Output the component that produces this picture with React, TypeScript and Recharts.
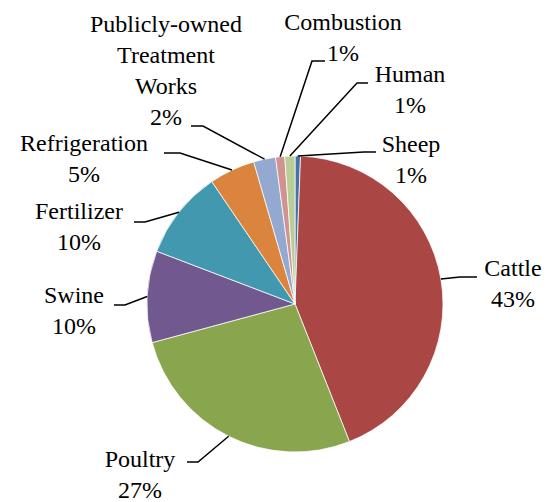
import { Pie, PieChart, Cell } from 'recharts';

// share of sources, percent
const sources = ['Sheep', 'Cattle', 'Poultry', 'Swine', 'Fertilizer', 'Refrigeration', 'Publicly-owned Treatment Works', 'Combustion', 'Human'];
const shares = [0.6, 43.4, 26.8, 10.0, 9.7, 5.0, 2.4, 1.0, 1.1];
const colors = ['#4572A7', '#AA4643', '#89A54E', '#71588F', '#4198AF', '#DB843D', '#93A9CF', '#D19392', '#B9CD96'];
const labelLines = [
  ['Sheep'],
  ['Cattle'],
  ['Poultry'],
  ['Swine'],
  ['Fertilizer'],
  ['Refrigeration'],
  ['Publicly-owned', 'Treatment', 'Works'],
  ['Combustion'],
  ['Human'],
];

// label placement, done by hand like the Excel original: elbow, line end, text centre, first baseline
const labelLayout = [
  { ex: 364, ey: 152, lx: 376, tx: 411, ty: 152 },
  { ex: 460, ey: 277, lx: 477, tx: 513, ty: 276 },
  { ex: 198, ey: 462, lx: 187, tx: 140, ty: 467 },
  { ex: 125, ey: 305, lx: 114, tx: 74, ty: 303 },
  { ex: 145, ey: 222, lx: 134, tx: 79, ty: 219 },
  { ex: 180, ey: 153, lx: 164, tx: 84, ty: 151 },
  { ex: 203, ey: 126, lx: 191, tx: 166, ty: 32 },
  { ex: 312, ey: 61, lx: 325, tx: 343, ty: 30 },
  { ex: 357, ey: 83, lx: 368, tx: 410, ty: 82 },
];

const data = sources.map((name, i) => ({ name, value: shares[i] }));
const total = shares.reduce((a, b) => a + b, 0);
const RAD = Math.PI / 180;
const LINE_H = 31;

// leader line starts on the slice edge at its mid angle
const renderLeader = (props: any) => {
  const { cx, cy, midAngle, outerRadius, index } = props;
  const sx = cx + outerRadius * Math.cos(-midAngle * RAD);
  const sy = cy + outerRadius * Math.sin(-midAngle * RAD);
  const p = labelLayout[index];
  return (
    <polyline
      points={`${sx},${sy} ${p.ex},${p.ey} ${p.lx},${p.ey}`}
      fill="none"
      stroke="#000"
      strokeWidth={1.5}
    />
  );
};

// text of the labels sits in its own svg on top of the chart
const LabelTexts = () => (
  <svg width={550} height={502} style={{ position: 'absolute', left: 0, top: 0, pointerEvents: 'none' }}>
    {data.map((d, i) => {
      const p = labelLayout[i];
      const lines = [...labelLines[i], `${Math.round((d.value / total) * 100)}%`];
      return (
        <text key={d.name} textAnchor="middle" fill="#000" style={{ fontFamily: 'Liberation Serif', fontSize: 24 }}>
          {lines.map((t, k) => (
            <tspan key={k} x={p.tx} y={p.ty + k * LINE_H}>
              {t}
            </tspan>
          ))}
        </text>
      );
    })}
  </svg>
);

export default function App() {
  return (
    <div style={{ position: 'absolute', left: 0, top: 0, width: 550, height: 502, background: '#fff' }}>
      <PieChart width={550} height={502} margin={{ top: 0, right: 0, bottom: 0, left: 0 }}>
        <Pie
          data={data}
          dataKey="value"
          nameKey="name"
          cx={295}
          cy={304}
          outerRadius={148}
          startAngle={90}
          endAngle={-270}
          stroke="#fff"
          strokeWidth={0.75}
          label={renderLeader}
          labelLine={false}
          isAnimationActive={false}
        >
          {data.map((d, i) => (
            <Cell key={d.name} fill={colors[i]} />
          ))}
        </Pie>
      </PieChart>
      <LabelTexts />
    </div>
  );
}
